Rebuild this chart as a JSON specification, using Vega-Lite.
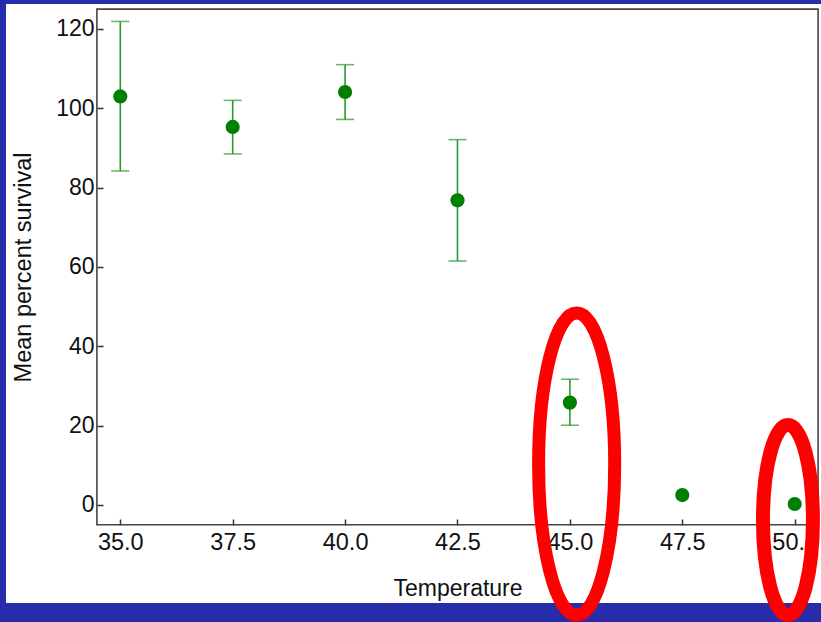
{
  "$schema": "https://vega.github.io/schema/vega-lite/v6.json",
  "width": 815,
  "height": 599,
  "autosize": "none",
  "padding": {"left": 6, "top": 4, "right": 0, "bottom": 19},
  "background": "#272daa",
  "config": {
    "view": {"stroke": null, "fill": "white"},
    "font": "Liberation Sans"
  },
  "datasets": {
    "survival": [
      {"temperature": 35.0, "mean": 103.0, "lower": 84.2, "upper": 121.9},
      {"temperature": 37.5, "mean": 95.3, "lower": 88.5, "upper": 102.0},
      {"temperature": 40.0, "mean": 104.1, "lower": 97.2, "upper": 111.0},
      {"temperature": 42.5, "mean": 76.8, "lower": 61.5, "upper": 92.1},
      {"temperature": 45.0, "mean": 25.8, "lower": 20.1, "upper": 31.7},
      {"temperature": 47.5, "mean": 2.5, "lower": null, "upper": null},
      {"temperature": 50.0, "mean": 0.25, "lower": null, "upper": null}
    ],
    "notes": [
      {"note": "a", "temperature": 45.15, "value": 10.3},
      {"note": "b", "temperature": 49.85, "value": -3.8}
    ]
  },
  "data": {"name": "survival"},
  "layer": [
    {
      "data": {"values": [{}]},
      "mark": {"type": "rect", "fillOpacity": 0, "stroke": "#444444", "strokeWidth": 1.6},
      "encoding": {
        "x": {"datum": 34.48, "type": "quantitative"},
        "x2": {"datum": 50.52},
        "y": {"datum": -5, "type": "quantitative"},
        "y2": {"datum": 125}
      }
    },
    {
      "transform": [{"filter": "datum.upper != null"}],
      "mark": {"type": "rule", "color": "#2b9a2b", "strokeWidth": 1.6},
      "encoding": {
        "x": {"field": "temperature", "type": "quantitative",
          "scale": {"domain": [32.458, 50.585], "nice": false, "zero": false},
          "axis": {
            "values": [35, 37.5, 40, 42.5, 45, 47.5, 50],
            "format": ".1f",
            "offset": -78,
            "domain": false,
            "grid": false,
            "tickSize": -6,
            "tickColor": "#333333",
            "tickWidth": 1.5,
            "labelPadding": 11,
            "labelFontSize": 23.5,
            "labelColor": "#111111",
            "labelFont": "Liberation Sans",
            "title": "Temperature",
            "titleFont": "Liberation Sans",
            "titleFontSize": 23,
            "titleFontWeight": "normal",
            "titleColor": "#111111",
            "titleX": 451.5,
            "titleY": 63,
            "titleAnchor": "middle",
            "titleAlign": "center",
            "titleBaseline": "middle"
          }
        },
        "y": {"field": "lower", "type": "quantitative",
          "scale": {"domain": [-24.71, 126.29], "nice": false, "zero": false},
          "axis": {
            "values": [0, 20, 40, 60, 80, 100, 120],
            "offset": -91,
            "domain": false,
            "grid": false,
            "tickSize": -6,
            "tickColor": "#333333",
            "tickWidth": 1.5,
            "labelPadding": 9,
            "labelFontSize": 23,
            "labelColor": "#111111",
            "labelFont": "Liberation Sans",
            "title": "Mean percent survival",
            "titleFont": "Liberation Sans",
            "titleFontSize": 23.5,
            "titleFontWeight": "normal",
            "titleColor": "#111111",
            "titleAngle": 270,
            "titleX": -74,
            "titleY": 263,
            "titleAlign": "center",
            "titleBaseline": "middle"
          }
        },
        "y2": {"field": "upper"}
      }
    },
    {
      "transform": [{"filter": "datum.upper != null"}],
      "mark": {"type": "tick", "orient": "horizontal", "color": "#2b9a2b", "thickness": 1.6, "size": 18},
      "encoding": {
        "x": {"field": "temperature", "type": "quantitative"},
        "y": {"field": "upper", "type": "quantitative"}
      }
    },
    {
      "transform": [{"filter": "datum.lower != null"}],
      "mark": {"type": "tick", "orient": "horizontal", "color": "#2b9a2b", "thickness": 1.6, "size": 18},
      "encoding": {
        "x": {"field": "temperature", "type": "quantitative"},
        "y": {"field": "lower", "type": "quantitative"}
      }
    },
    {
      "mark": {"type": "point", "filled": true, "color": "#008000", "opacity": 1, "size": 201},
      "encoding": {
        "x": {"field": "temperature", "type": "quantitative"},
        "y": {"field": "mean", "type": "quantitative"}
      }
    },
    {
      "data": {"name": "notes"},
      "transform": [{"filter": "datum.note == 'a'"}],
      "mark": {"type": "point", "filled": false, "stroke": "#ff0000", "strokeWidth": 13, "opacity": 1, "size": 91204,
        "shape": "M0,-1C0.139,-1,0.252,-0.552,0.252,0C0.252,0.552,0.139,1,0,1C-0.139,1,-0.252,0.552,-0.252,0C-0.252,-0.552,-0.139,-1,0,-1Z"},
      "encoding": {
        "x": {"field": "temperature", "type": "quantitative"},
        "y": {"field": "value", "type": "quantitative"}
      }
    },
    {
      "data": {"name": "notes"},
      "transform": [{"filter": "datum.note == 'b'"}],
      "mark": {"type": "point", "filled": false, "stroke": "#ff0000", "strokeWidth": 14, "opacity": 1, "size": 36100,
        "shape": "M0,-1C0.145,-1,0.263,-0.552,0.263,0C0.263,0.552,0.145,1,0,1C-0.145,1,-0.263,0.552,-0.263,0C-0.263,-0.552,-0.145,-1,0,-1Z"},
      "encoding": {
        "x": {"field": "temperature", "type": "quantitative"},
        "y": {"field": "value", "type": "quantitative"}
      }
    }
  ]
}
